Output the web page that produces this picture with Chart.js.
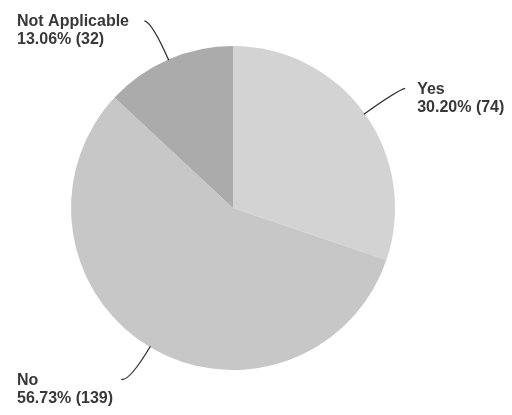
<!DOCTYPE html>
<html>
<head>
<meta charset="utf-8">
<script src="https://cdn.jsdelivr.net/npm/chart.js@4.4.0/dist/chart.umd.min.js"></script>
<style>
  html, body { margin: 0; padding: 0; background: #ffffff; }
  #wrap { width: 512px; height: 415px; }
</style>
</head>
<body>
<div id="wrap"><canvas id="pizza" width="512" height="415"></canvas></div>
<script>
// Dados do gráfico
const categorias = ['Yes', 'No', 'Not Applicable'];
const respostas = [74, 139, 32];
const percentuais = ['30.20%', '56.73%', '13.06%'];
const coresFatias = ['#d3d3d3', '#c7c7c7', '#ababab'];

// Plugin para desenhar os rótulos com linha de chamada
const rotulosExternos = {
    id: 'rotulosExternos',
    afterDraw(chart) {
        const ctx = chart.ctx;
        const arcos = chart.getDatasetMeta(0).data;
        ctx.save();
        ctx.font = 'bold 16px "Liberation Sans", Arial, sans-serif';
        ctx.textBaseline = 'middle';
        ctx.fillStyle = '#383838';
        ctx.strokeStyle = '#333333';
        ctx.lineWidth = 1.3;
        arcos.forEach((arco, i) => {
            const meio = (arco.startAngle + arco.endAngle) / 2;
            const dx = Math.cos(meio), dy = Math.sin(meio);
            const r = arco.outerRadius;
            const lado = dx >= 0 ? 1 : -1;
            const inicio = { x: arco.x + (r - 1) * dx, y: arco.y + (r - 1) * dy };
            const cotovelo = { x: arco.x + (r + 40) * dx, y: arco.y + (r + 40) * dy };
            const fim = { x: cotovelo.x + lado * 8, y: cotovelo.y - 2 };
            ctx.beginPath();
            ctx.moveTo(inicio.x, inicio.y);
            ctx.quadraticCurveTo(cotovelo.x, cotovelo.y, fim.x, fim.y);
            ctx.stroke();
            const tx = lado > 0 ? fim.x + 12 : 17;
            ctx.textAlign = 'left';
            ctx.fillText(categorias[i], tx, fim.y + 1);
            ctx.fillText(percentuais[i] + ' (' + respostas[i] + ')', tx, fim.y + 19);
        });
        ctx.restore();
    }
};

const contexto = document.getElementById('pizza').getContext('2d');
const grafico = new Chart(contexto, {
    type: 'pie',
    data: {
        labels: categorias,
        datasets: [{
            data: respostas,
            backgroundColor: coresFatias,
            borderWidth: 0,
        }]
    },
    options: {
        responsive: false,
        animation: false,
        layout: {
            padding: { left: 71, right: 117, top: 46, bottom: 45 }
        },
        plugins: {
            legend: { display: false },
            tooltip: { enabled: false },
        },
    },
    plugins: [rotulosExternos]
});
</script>
</body>
</html>
